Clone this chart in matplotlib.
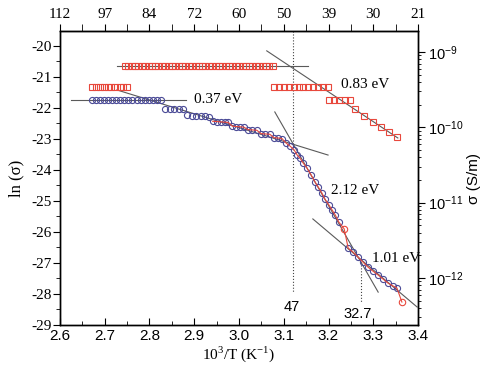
import numpy as np
import matplotlib
matplotlib.use('Agg')
import matplotlib.pyplot as plt
from matplotlib.ticker import MultipleLocator, LogLocator, NullFormatter

plt.rcParams['mathtext.fontset'] = 'custom'
plt.rcParams['mathtext.rm'] = 'Liberation Serif'
plt.rcParams['mathtext.sf'] = 'Liberation Sans'
plt.rcParams['font.family'] = 'Liberation Serif'

# blue circles: ln(sigma) vs 1000/T
blue_x = [2.672, 2.681, 2.690, 2.699, 2.708, 2.717, 2.726, 2.735, 2.744, 2.753,
          2.762, 2.771, 2.780, 2.789, 2.798, 2.807, 2.816, 2.825,
          2.835, 2.845, 2.855, 2.865, 2.875,
          2.884, 2.894, 2.904, 2.914, 2.924, 2.933,
          2.941, 2.950, 2.959, 2.968, 2.976,
          2.985, 2.994, 3.003, 3.011,
          3.020, 3.030, 3.040,
          3.049, 3.059, 3.069,
          3.078, 3.087, 3.096,
          3.105, 3.114, 3.123, 3.130, 3.136, 3.143, 3.152, 3.161, 3.170, 3.177,
          3.185, 3.192, 3.201, 3.208, 3.215, 3.223,
          3.244, 3.255, 3.266, 3.277, 3.288, 3.299, 3.311, 3.322, 3.333, 3.344, 3.353]
blue_y = [-21.74] * 18 + [-22.02, -22.03, -22.03, -22.04, -22.05] \
    + [-22.24, -22.25, -22.26, -22.26, -22.27, -22.28] \
    + [-22.43, -22.44, -22.45, -22.46, -22.47] \
    + [-22.59, -22.60, -22.61, -22.62] \
    + [-22.70, -22.71, -22.72] \
    + [-22.83, -22.84, -22.85] \
    + [-22.96, -22.97, -22.99] \
    + [-23.13, -23.23, -23.35, -23.52, -23.61, -23.77, -23.94, -24.16, -24.39, -24.55,
       -24.74, -24.94, -25.13, -25.29, -25.45, -25.68,
       -26.52, -26.65, -26.81, -26.97, -27.13, -27.26, -27.39, -27.52, -27.65, -27.74, -27.81]

# red squares
red_top_x = [2.745, 2.753, 2.760, 2.768, 2.775, 2.783, 2.790, 2.798, 2.805, 2.813,
             2.820, 2.828, 2.835, 2.843, 2.850, 2.858, 2.865, 2.873, 2.880, 2.888,
             2.895, 2.903, 2.910, 2.918, 2.925, 2.933, 2.940, 2.948, 2.955, 2.963,
             2.970, 2.978, 2.985, 2.993, 3.000, 3.008, 3.015, 3.023, 3.030, 3.038,
             3.045, 3.053, 3.060, 3.068, 3.075]
red_top_y = -20.65
red_left_x = [2.672, 2.681, 2.689, 2.698, 2.707, 2.715, 2.724, 2.733, 2.741, 2.750]
red_left_y = -21.32
red_right_x = [3.078, 3.089, 3.100, 3.111, 3.122, 3.133, 3.144, 3.155, 3.166, 3.177, 3.188, 3.199,
               3.200, 3.212, 3.224, 3.236, 3.248,
               3.259, 3.279, 3.299, 3.317, 3.335, 3.353]
red_right_y = [-21.32] * 12 + [-21.74] * 5 + [-22.03, -22.26, -22.45, -22.61, -22.77, -22.94]

# red circles on the low-temperature branch
redc_x = [3.235, 3.364]
redc_y = [-25.90, -28.26]

# straight fits (gray): (x0, y0, x1, y1)
fits = [
    (2.625, -21.74, 2.882, -21.74),
    (2.727, -21.42, 3.199, -23.52),
    (3.080, -22.13, 3.311, -27.94),
    (3.165, -25.58, 3.398, -28.42),
    (3.062, -20.16, 3.355, -22.97),
    (2.727, -20.65, 3.154, -20.65),
]
labels = [("0.37 eV", 2.953, -21.74), ("0.83 eV", 3.282, -21.26),
          ("2.12 eV", 3.259, -24.65), ("1.01 eV", 3.351, -26.84)]

top_ticks = [2.6, 2.7, 2.8, 2.9, 3.0, 3.1, 3.2, 3.3, 3.4]
top_labels = ['112', '97', '84', '72', '60', '50', '39', '30', '21']
right_ticks = [1e-9, 1e-10, 1e-11, 1e-12]
right_labels = [r'$\mathsf{10^{-9}}$', r'$\mathsf{10^{-10}}$', r'$\mathsf{10^{-11}}$', r'$\mathsf{10^{-12}}$']

red = '#e8483c'
blue = '#4a4a96'
gray = '#5a5a5a'

fig = plt.figure(figsize=(4.82, 3.72), dpi=100)
ax = fig.add_axes([60 / 482, 1 - 325 / 372, 358 / 482, 294 / 372])

for x0, y0, x1, y1 in fits:
    ax.plot([x0, x1], [y0, y1], color=gray, lw=0.8, zorder=2)

ax.plot(red_top_x, np.full(len(red_top_x), red_top_y), 's', mfc='none', mec=red,
        ms=4.6, mew=0.8, zorder=3)
ax.plot(red_left_x, np.full(len(red_left_x), red_left_y), 's', mfc='none', mec=red,
        ms=4.6, mew=0.8, zorder=3)
ax.plot(red_right_x, red_right_y, 's', mfc='none', mec=red, ms=4.6, mew=0.8, zorder=3)
ax.plot(blue_x, blue_y, 'o', mfc='none', mec=blue, ms=4.4, mew=0.8, zorder=3)

# red line following the data
lx = np.array(blue_x + redc_x)
ly = np.array(blue_y + redc_y)
order = np.argsort(lx)
lx, ly = lx[order], ly[order]
keep = lx >= 2.94
ax.plot(lx[keep], ly[keep], color=red, lw=0.8, zorder=4)
ax.plot(redc_x, redc_y, 'o', mfc='none', mec=red, ms=4.6, mew=0.8, zorder=5)

# dotted markers
ax.plot([3.121, 3.121], [-19.52, -27.94], ':', color='#444444', lw=0.8, zorder=1)
ax.plot([3.273, 3.273], [-26.87, -28.3], ':', color='#444444', lw=0.8, zorder=1)
ax.text(3.118, -28.42, '47', family='Liberation Sans', fontsize=10.5, ha='center', va='center')
ax.text(3.266, -28.65, '32.7', family='Liberation Sans', fontsize=10.5, ha='center', va='center')

for s, x, y in labels:
    ax.text(x, y, s, fontsize=11, ha='center', va='center', clip_on=False, zorder=6)

ax.set_xlim(2.6, 3.4)
ax.set_ylim(-29, -19.52)
ax.xaxis.set_minor_locator(MultipleLocator(0.05))
ax.yaxis.set_minor_locator(MultipleLocator(0.5))
ax.tick_params(axis='x', which='both', direction='in', top=False, labelsize=11, pad=3)
ax.tick_params(axis='x', which='major', length=5)
ax.tick_params(axis='x', which='minor', length=3)
ax.tick_params(axis='y', which='both', direction='out', right=False, labelsize=11, pad=1)
ax.tick_params(axis='y', which='major', length=5)
ax.tick_params(axis='y', which='minor', length=3)
ax.set_xticks(top_ticks)
ax.set_xticklabels([f'{v:.1f}' for v in top_ticks], family='Liberation Sans')
ax.set_yticks(range(-29, -19))
ax.set_yticklabels([str(v) for v in range(-29, -19)])

ax.set_xlabel(r'10$^{3}$/T (K$^{-1}$)', fontsize=11, labelpad=1)
ax.set_ylabel('ln (σ)', fontsize=12, labelpad=5)

sec = ax.secondary_xaxis('top')
sec.set_xticks(top_ticks, labels=top_labels)
sec.set_xticks([2.65, 2.75, 2.85, 2.95, 3.05, 3.15, 3.25, 3.35], minor=True)
sec.tick_params(which='both', direction='out', labelsize=11, pad=2)
sec.tick_params(which='major', length=5)
sec.tick_params(which='minor', length=5)

ax2 = ax.twinx()
ax2.set_yscale('log')
ax2.set_ylim(10 ** -12.624, 10 ** -8.721)
ax2.set_yticks(right_ticks)
ax2.set_yticklabels(right_labels)
ax2.yaxis.set_minor_locator(LogLocator(base=10, subs=np.arange(2, 10)))
ax2.yaxis.set_minor_formatter(NullFormatter())
ax2.tick_params(axis='y', which='major', direction='out', length=5, labelsize=10.5, pad=2)
ax2.tick_params(axis='y', which='minor', direction='out', length=2.5)
ax2.set_ylabel('σ (S/m)', family='Liberation Sans', fontsize=11, labelpad=3)

for a in (ax, ax2):
    for sp in a.spines.values():
        sp.set_linewidth(1.0)

fig.savefig('out.png', dpi=100)
